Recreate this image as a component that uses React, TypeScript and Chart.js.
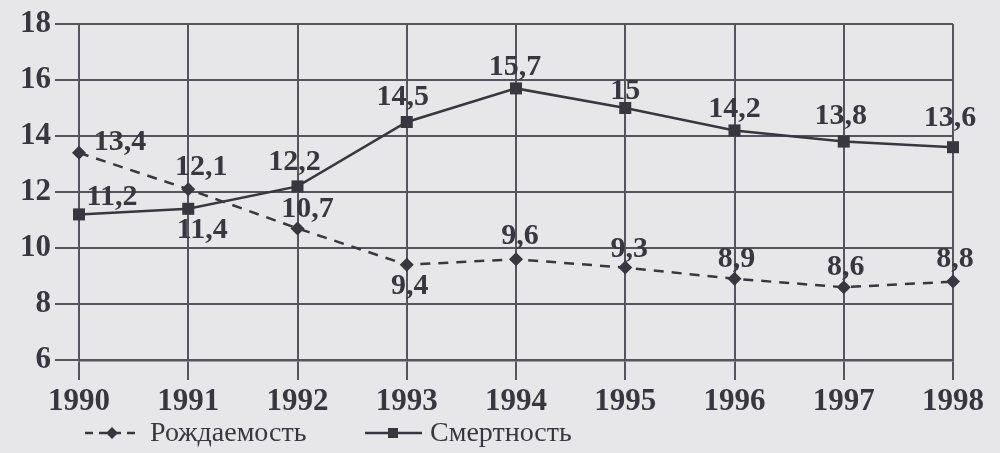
import React, { useEffect, useRef } from 'react';
import { Chart, registerables } from 'chart.js';

Chart.register(...registerables);

const years = ['1990', '1991', '1992', '1993', '1994', '1995', '1996', '1997', '1998'];
const birthRate = [13.4, 12.1, 10.7, 9.4, 9.6, 9.3, 8.9, 8.6, 8.8];
const deathRate = [11.2, 11.4, 12.2, 14.5, 15.7, 15, 14.2, 13.8, 13.6];
const seriesNames = ['Рождаемость', 'Смертность'];

// label offsets (style only): [dx, dy] from each point
const birthLabelOffsets = [[41, -11], [13, -22], [10, -19], [3, 21], [4, -23], [4, -18], [2, -20], [2, -20], [2, -22]];
const deathLabelOffsets = [[33, -17], [14, 21], [-3, -24], [-4, -25], [-1, -21], [0, -17], [0, -21], [-3, -25], [-3, -29]];

const INK = '#38373f';
const GRID = '#55545c';
const BG = '#e7e7ea';
const SERIF = "'Liberation Serif', 'Times New Roman', serif";

const fmt = (v: number) => String(v).replace('.', ',');

const labelsPlugin = {
  id: 'valueLabels',
  afterDatasetsDraw(chart: any) {
    const ctx = chart.ctx;
    ctx.save();
    ctx.font = `bold 30px ${SERIF}`;
    ctx.fillStyle = INK;
    ctx.textAlign = 'center';
    ctx.textBaseline = 'middle';
    chart.data.datasets.forEach((ds: any, di: number) => {
      const meta = chart.getDatasetMeta(di);
      const offs = di === 0 ? birthLabelOffsets : deathLabelOffsets;
      meta.data.forEach((pt: any, i: number) => {
        const [dx, dy] = offs[i];
        ctx.fillText(fmt(ds.data[i]), pt.x + dx, pt.y + dy);
      });
    });
    ctx.restore();
  },
};

const legendPlugin = {
  id: 'customLegend',
  afterDraw(chart: any) {
    const ctx = chart.ctx;
    const y = 433;
    ctx.save();
    ctx.strokeStyle = INK;
    ctx.fillStyle = INK;
    ctx.lineWidth = 2.5;
    // item 1: dashed with diamond
    ctx.setLineDash([8, 6]);
    ctx.beginPath();
    ctx.moveTo(85, y);
    ctx.lineTo(138, y);
    ctx.stroke();
    ctx.setLineDash([]);
    ctx.beginPath();
    ctx.moveTo(112, y - 6);
    ctx.lineTo(118, y);
    ctx.lineTo(112, y + 6);
    ctx.lineTo(106, y);
    ctx.closePath();
    ctx.fill();
    // item 2: solid with square
    ctx.beginPath();
    ctx.moveTo(365, y);
    ctx.lineTo(422, y);
    ctx.stroke();
    ctx.fillRect(388, y - 5, 10, 10);
    ctx.font = `28px ${SERIF}`;
    ctx.textAlign = 'left';
    ctx.textBaseline = 'middle';
    ctx.fillText(seriesNames[0], 150, y + 1);
    ctx.fillText(seriesNames[1], 430, y + 1);
    ctx.restore();
  },
};

export default function App() {
  const ref = useRef<HTMLCanvasElement>(null);
  useEffect(() => {
    document.body.style.margin = '0';
    const chart = new Chart(ref.current!, {
      type: 'line',
      data: {
        labels: years,
        datasets: [
          {
            label: seriesNames[0],
            data: birthRate,
            borderColor: INK,
            backgroundColor: INK,
            borderWidth: 2.5,
            borderDash: [10, 8],
            pointStyle: 'rectRot',
            pointRadius: 7,
            pointBackgroundColor: INK,
            pointBorderColor: INK,
            pointBorderWidth: 0,
            tension: 0,
            clip: false,
          } as any,
          {
            label: seriesNames[1],
            data: deathRate,
            borderColor: INK,
            backgroundColor: INK,
            borderWidth: 2.5,
            pointStyle: 'rect',
            pointRadius: 8.5,
            pointBackgroundColor: INK,
            pointBorderColor: INK,
            pointBorderWidth: 0,
            tension: 0,
            clip: false,
          } as any,
        ],
      },
      options: {
        animation: false,
        responsive: false,
        layout: { padding: { left: 0, right: 47, top: 24, bottom: 40 } },
        plugins: { legend: { display: false }, tooltip: { enabled: false } },
        scales: {
          x: {
            type: 'category',
            offset: false,
            grid: { color: GRID, lineWidth: 2, tickLength: 20, tickColor: GRID },
            border: { color: GRID, width: 2.5 },
            ticks: {
              color: INK,
              font: { family: SERIF, size: 31, weight: 'bold' },
              padding: 3,
              maxRotation: 0,
              autoSkip: false,
            },
            afterFit: (s: any) => { s.height = 53; },
          },
          y: {
            min: 6,
            max: 18,
            grid: { color: GRID, lineWidth: 2, tickLength: 24, tickColor: GRID },
            border: { color: GRID, width: 2 },
            ticks: {
              stepSize: 2,
              color: INK,
              font: { family: SERIF, size: 31, weight: 'bold' },
              padding: 4,
            },
            afterFit: (s: any) => { s.width = 79; },
          },
        },
      },
      plugins: [labelsPlugin, legendPlugin],
    } as any);
    return () => chart.destroy();
  }, []);
  return (
    <div style={{ position: 'fixed', left: 0, top: 0, width: 1000, height: 453, background: BG }}>
      <canvas ref={ref} width={1000} height={453} />
    </div>
  );
}
